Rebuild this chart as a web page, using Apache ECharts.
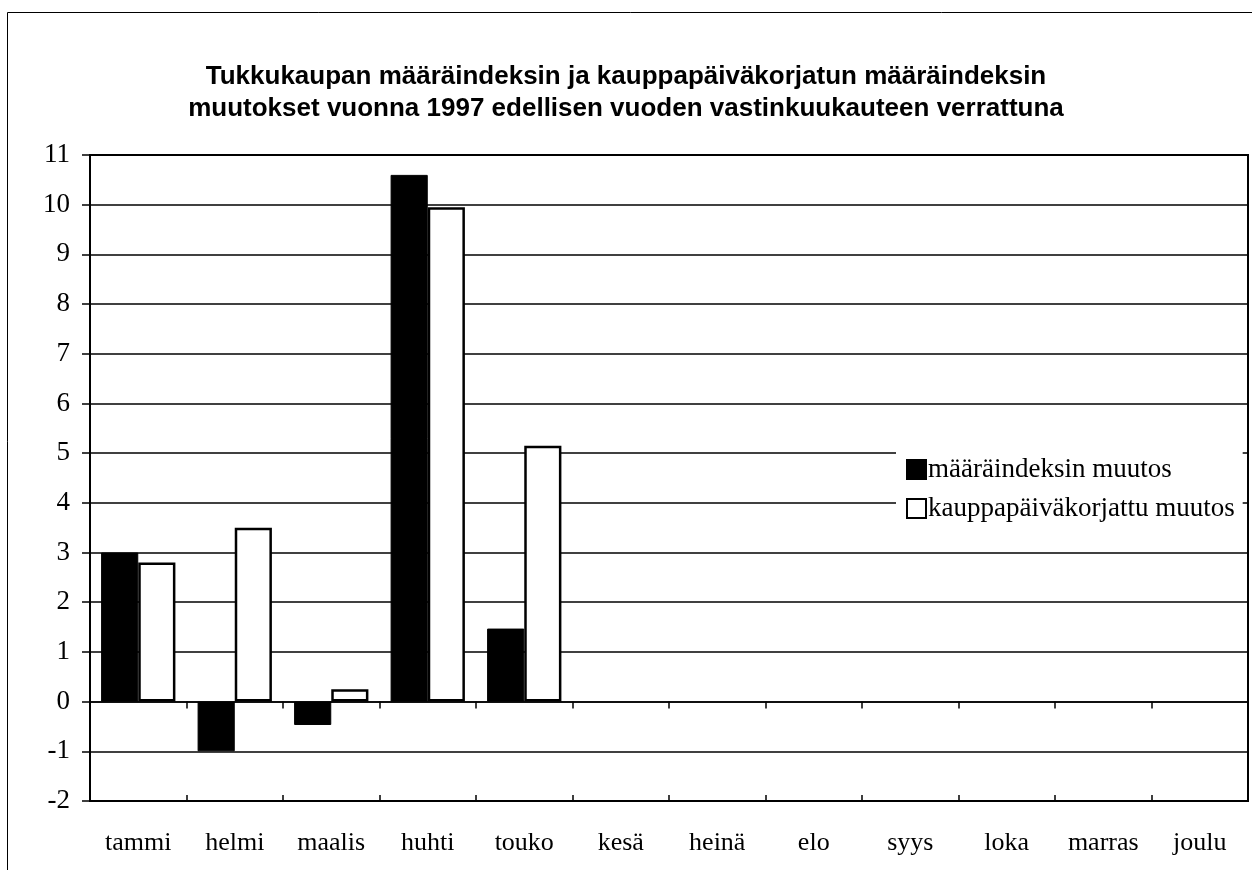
<!DOCTYPE html>
<html>
<head>
<meta charset="utf-8">
<script src="https://cdn.jsdelivr.net/npm/echarts@6/dist/echarts.min.js"></script>
<style>html,body{margin:0;padding:0;background:#fff;}#c{width:1252px;height:870px;}</style>
</head>
<body>
<div id="c"></div>
<script>
const titleText = 'Tukkukaupan määräindeksin ja kauppapäiväkorjatun määräindeksin\nmuutokset vuonna 1997 edellisen vuoden vastinkuukauteen verrattuna';
const categories = ['tammi','helmi','maalis','huhti','touko','kesä','heinä','elo','syys','loka','marras','joulu'];
const seriesNames = ['määräindeksin muutos','kauppapäiväkorjattu muutos'];
const volumeChange = [3.0, -1.0, -0.47, 10.6, 1.47, null, null, null, null, null, null, null];
const adjustedChange = [2.8, 3.5, 0.25, 9.95, 5.15, null, null, null, null, null, null, null];
const yMin = -2, yMax = 11, yStep = 1;

const serif = 'Liberation Serif';
const chart = echarts.init(document.getElementById('c'), null, {renderer:'canvas'});
chart.setOption({
  animation:false,
  backgroundColor:'#fff',
  title:{
    text:titleText, left:'center', top:56,
    textStyle:{fontFamily:'Liberation Sans', fontWeight:'bold', fontSize:26, lineHeight:32, color:'#000'}
  },
  graphic:[
    {type:'rect', shape:{x:7.5,y:12.5,width:1400,height:1000}, style:{fill:'none',stroke:'#000',lineWidth:1}, silent:true},
    {type:'line', z:100, shape:{x1:1248,y1:155,x2:1248,y2:801}, style:{stroke:'#000',lineWidth:2}, silent:true}
  ],
  grid:{left:90, right:4, top:155, bottom:69, show:true, borderColor:'#000', borderWidth:2, backgroundColor:'transparent'},
  legend:{
    orient:'vertical', left:896, top:446, data:seriesNames,
    backgroundColor:'#fff', padding:[10,8,12,10], itemGap:12,
    itemWidth:19, itemHeight:19, icon:'rect',
    textStyle:{fontFamily:serif, fontSize:27, color:'#000', padding:[0,0,0,-3]}
  },
  xAxis:[
    {type:'category', data:categories, position:'bottom', axisLine:{onZero:false, show:true, lineStyle:{color:'#000', width:2}},
     axisTick:{show:false}, axisLabel:{color:'#000', fontFamily:serif, fontSize:26, margin:29}, splitLine:{show:false}},
    {type:'category', data:categories, position:'bottom', axisLine:{onZero:true, show:true, lineStyle:{color:'#000', width:1.5}},
     axisTick:{show:true, length:7, lineStyle:{color:'#000', width:1.5}}, axisLabel:{show:false}},
    {type:'category', data:categories, position:'bottom', axisLine:{onZero:true, show:false},
     axisTick:{show:true, inside:true, length:6, lineStyle:{color:'#000', width:1.5}}, axisLabel:{show:false}}
  ],
  yAxis:{
    type:'value', min:yMin, max:yMax, interval:yStep,
    axisLine:{show:true, lineStyle:{color:'#000', width:2}},
    axisTick:{show:true, length:8, lineStyle:{color:'#000', width:1.5}},
    axisLabel:{color:'#000', fontFamily:serif, fontSize:27, margin:20},
    splitLine:{show:true, lineStyle:{color:'#000', width:1.5}}
  },
  series:[
    {name:seriesNames[0], type:'bar', xAxisIndex:1, data:volumeChange, barGap:'0%', barCategoryGap:'23%',
     itemStyle:{color:'#000', borderColor:'#000', borderWidth:1}},
    {name:seriesNames[1], type:'bar', xAxisIndex:1, data:adjustedChange, barGap:'0%', barCategoryGap:'23%',
     itemStyle:{color:'#fff', borderColor:'#000', borderWidth:2.5}}
  ]
});
</script>
</body>
</html>
